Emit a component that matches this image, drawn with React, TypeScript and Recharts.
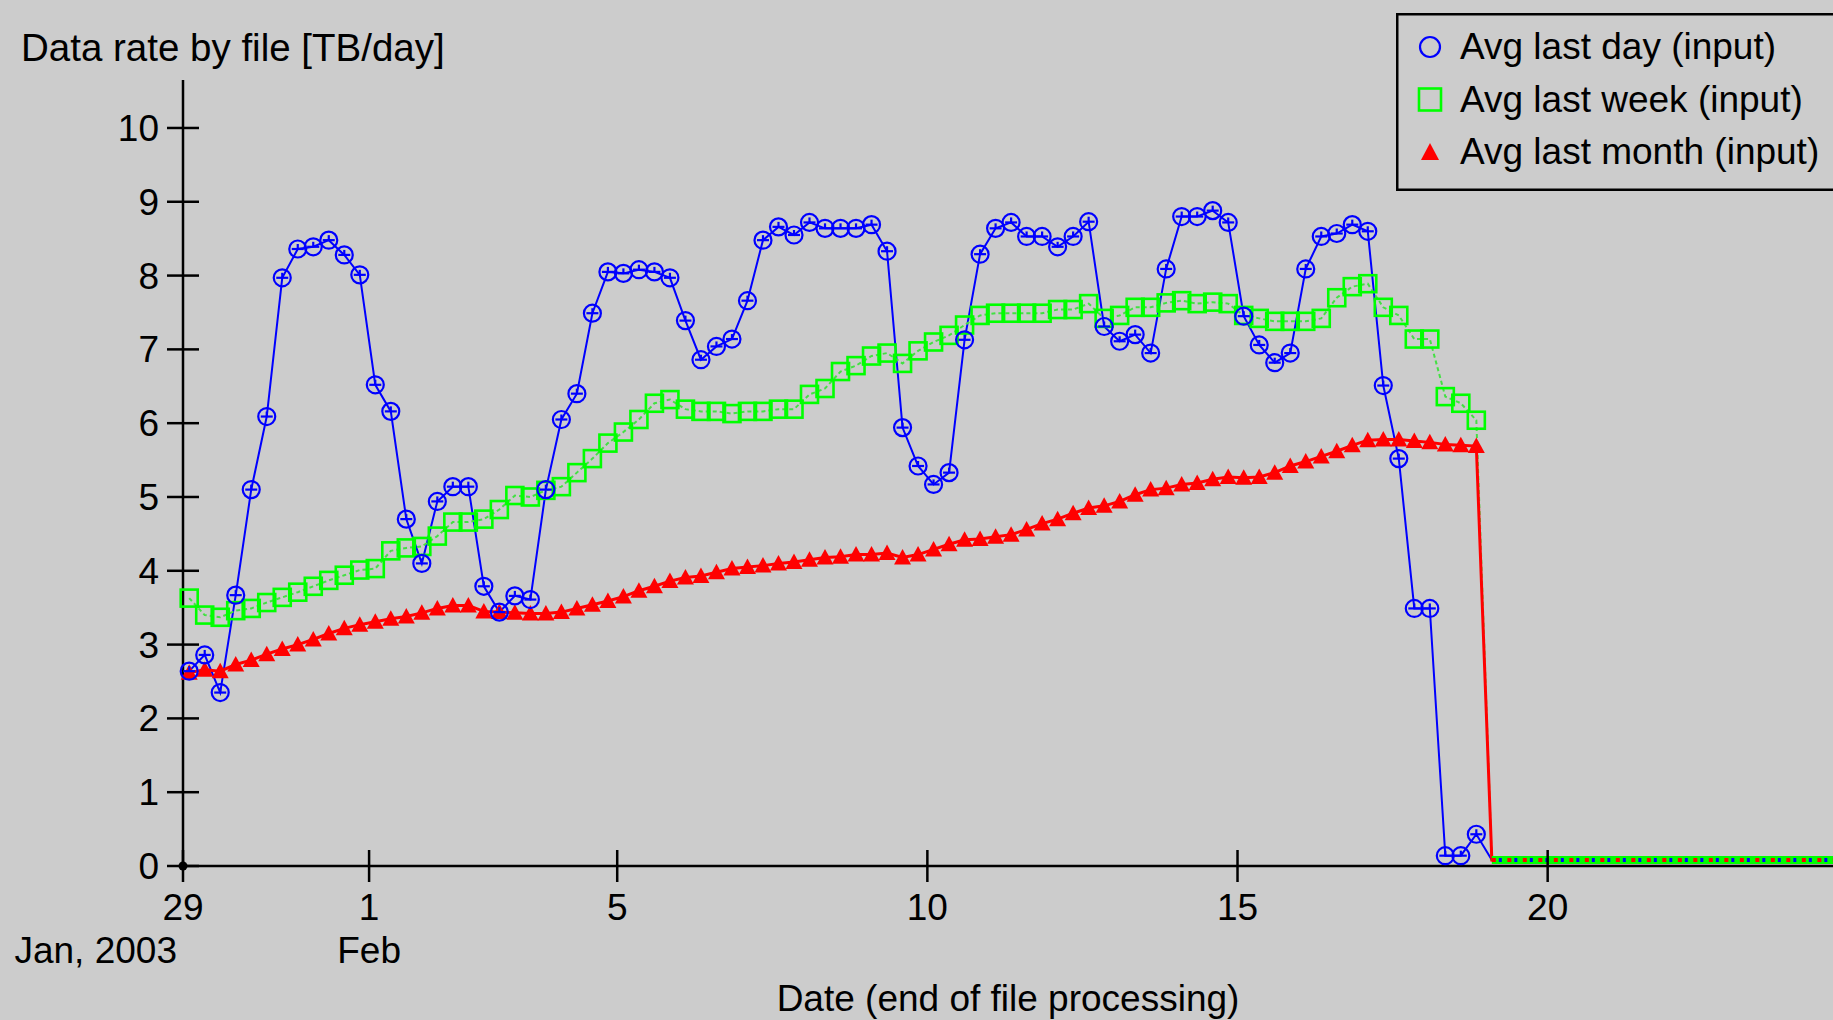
import React from 'react';
import { LineChart, Line, XAxis, YAxis, Legend } from 'recharts';

const FONT = '"Liberation Sans", Arial, sans-serif';

// sampling grid: days after 29 Jan 2003 00:00, one sample every 6 hours
const FIRST_SAMPLE_DAY = 0.1;
const SAMPLE_STEP_DAY = 0.25;

const lastDay = [
  2.64, 2.86, 2.35, 3.67, 5.10, 6.09, 7.97, 8.36, 8.39, 8.48,
  8.28, 8.01, 6.52, 6.16, 4.70, 4.10, 4.94, 5.14, 5.14, 3.79,
  3.44, 3.66, 3.61, 5.10, 6.05, 6.40, 7.49, 8.05, 8.03, 8.08,
  8.05, 7.97, 7.39, 6.86, 7.04, 7.14, 7.66, 8.48, 8.66, 8.55,
  8.72, 8.64, 8.64, 8.64, 8.69, 8.33, 5.94, 5.42, 5.17, 5.33,
  7.13, 8.29, 8.64, 8.72, 8.53, 8.53, 8.39, 8.53, 8.73, 7.31,
  7.11, 7.20, 6.95, 8.09, 8.80, 8.80, 8.88, 8.72, 7.45, 7.06,
  6.82, 6.95, 8.09, 8.53, 8.57, 8.69, 8.60, 6.51, 5.52, 3.49,
  3.49, 0.14, 0.14, 0.43,
];

const lastWeek = [
  3.63, 3.40, 3.37, 3.46, 3.49, 3.57, 3.64, 3.71, 3.79, 3.87,
  3.94, 4.01, 4.03, 4.27, 4.31, 4.33, 4.47, 4.66, 4.66, 4.70,
  4.83, 5.02, 5.00, 5.09, 5.14, 5.33, 5.52, 5.73, 5.88, 6.05,
  6.27, 6.32, 6.19, 6.16, 6.16, 6.13, 6.16, 6.16, 6.19, 6.19,
  6.39, 6.47, 6.70, 6.78, 6.91, 6.95, 6.81, 6.98, 7.10, 7.19,
  7.33, 7.46, 7.49, 7.49, 7.49, 7.49, 7.54, 7.54, 7.62, 7.42,
  7.46, 7.57, 7.57, 7.63, 7.66, 7.62, 7.64, 7.62, 7.46, 7.42,
  7.38, 7.38, 7.38, 7.42, 7.70, 7.85, 7.89, 7.57, 7.46, 7.14,
  7.14, 6.36, 6.27, 6.04,
];

const lastMonth = [
  2.62, 2.66, 2.64, 2.73, 2.79, 2.87, 2.94, 3.00, 3.07, 3.15,
  3.22, 3.27, 3.31, 3.35, 3.38, 3.43, 3.49, 3.53, 3.53, 3.45,
  3.44, 3.43, 3.42, 3.42, 3.44, 3.49, 3.54, 3.59, 3.65, 3.73,
  3.79, 3.86, 3.91, 3.93, 3.98, 4.03, 4.05, 4.07, 4.10, 4.12,
  4.15, 4.18, 4.19, 4.22, 4.22, 4.24, 4.18, 4.22, 4.29, 4.36,
  4.42, 4.43, 4.46, 4.49, 4.56, 4.64, 4.70, 4.78, 4.85, 4.88,
  4.94, 5.03, 5.10, 5.12, 5.17, 5.19, 5.24, 5.27, 5.26, 5.27,
  5.33, 5.42, 5.48, 5.55, 5.62, 5.70, 5.77, 5.78, 5.78, 5.76,
  5.74, 5.71, 5.70, 5.69,
];

// after processing stopped: all three averages sit at ~0
const dayTail = [
  0.08, 0.08, 0.08, 0.08, 0.08, 0.08, 0.08, 0.08, 0.08, 0.08, 0.08, 0.08,
  0.08, 0.08, 0.08, 0.08, 0.08, 0.08, 0.08, 0.08, 0.08, 0.08, 0.08,
];
const weekTail = [
  0.08, 0.08, 0.08, 0.08, 0.08, 0.08, 0.08, 0.08, 0.08, 0.08, 0.08, 0.08,
  0.08, 0.08, 0.08, 0.08, 0.08, 0.08, 0.08, 0.08, 0.08, 0.08, 0.08,
];
const monthTail = [
  0.08, 0.08, 0.08, 0.08, 0.08, 0.08, 0.08, 0.08, 0.08, 0.08, 0.08, 0.08,
  0.08, 0.08, 0.08, 0.08, 0.08, 0.08, 0.08, 0.08, 0.08, 0.08, 0.08,
];

const seriesKeys = ['day', 'week', 'month'];
const seriesNames = ['Avg last day (input)', 'Avg last week (input)', 'Avg last month (input)'];
const seriesColors = ['#0000ff', '#00ff00', '#ff0000'];

const xTicks = [0, 3, 7, 12, 17, 22];
const xTickLabels = ['29', '1', '5', '10', '15', '20'];
const xTickSubLabels = ['Jan, 2003', 'Feb', '', '', '', ''];
const yTicks = [0, 1, 2, 3, 4, 5, 6, 7, 8, 9, 10];

const X_DOMAIN: [number, number] = [0, 26.6];
const Y_DOMAIN: [number, number] = [0, 10.65];

const MAIN_COUNT = lastDay.length;
const data: any[] = [];
for (let i = 0; i < MAIN_COUNT + dayTail.length; i++) {
  const t = FIRST_SAMPLE_DAY + i * SAMPLE_STEP_DAY;
  const main = i < MAIN_COUNT;
  const j = i - MAIN_COUNT;
  data.push({
    t,
    day: main ? lastDay[i] : dayTail[j],
    week: main ? lastWeek[i] : weekTail[j],
    month: main ? lastMonth[i] : monthTail[j],
    dayTail: main ? null : dayTail[j],
    weekTail: main ? null : weekTail[j],
    monthTail: main ? null : monthTail[j],
  });
}

const BLUE = seriesColors[0];
const GREEN = seriesColors[1];
const RED = seriesColors[2];

const CircleMark = (props: any) => {
  const { cx, cy, index } = props;
  if (cx == null || cy == null || index >= MAIN_COUNT) return <g key={`c${index}`} />;
  return (
    <g key={`c${index}`}>
      <circle cx={cx} cy={cy} r={8.5} fill="none" stroke={BLUE} strokeWidth={2.2} />
      <line x1={cx - 6} x2={cx + 6} y1={cy} y2={cy} stroke={BLUE} strokeWidth={2.2} />
      <line x1={cx} x2={cx} y1={cy - 5} y2={cy} stroke={BLUE} strokeWidth={2.2} />
    </g>
  );
};

const SquareMark = (props: any) => {
  const { cx, cy, index } = props;
  if (cx == null || cy == null || index >= MAIN_COUNT) return <g key={`s${index}`} />;
  return (
    <rect key={`s${index}`} x={cx - 8.5} y={cy - 8.5} width={17} height={17}
      fill="none" stroke={GREEN} strokeWidth={2.6} />
  );
};

const TriangleMark = (props: any) => {
  const { cx, cy, index } = props;
  if (cx == null || cy == null || index >= MAIN_COUNT) return <g key={`t${index}`} />;
  return (
    <polygon key={`t${index}`}
      points={`${cx},${cy - 8.5} ${cx - 8.5},${cy + 7} ${cx + 8.5},${cy + 7}`}
      fill={RED} stroke="none" />
  );
};

const YTick = (props: any) => {
  const { x, y, payload } = props;
  return (
    <g>
      <line x1={x - 16} x2={x + 16} y1={y} y2={y} stroke="#000" strokeWidth={2.5} />
      <text x={x - 24} y={y + 13} textAnchor="end" fontSize={37} fontFamily={FONT} fill="#000">
        {payload.value}
      </text>
    </g>
  );
};

const XTick = (props: any) => {
  const { x, y, payload } = props;
  const i = xTicks.indexOf(payload.value);
  return (
    <g>
      <line x1={x} x2={x} y1={y - 16} y2={y + 16} stroke="#000" strokeWidth={2.5} />
      {i === 0 && <circle cx={x} cy={y} r={4.5} fill="#000" />}
      <text x={x} y={y + 54} textAnchor="middle" fontSize={37} fontFamily={FONT} fill="#000">
        {xTickLabels[i]}
      </text>
      {xTickSubLabels[i] ? (
        <text x={i === 0 ? x - 6 : x} y={y + 97} textAnchor={i === 0 ? 'end' : 'middle'}
          fontSize={37} fontFamily={FONT} fill="#000">
          {xTickSubLabels[i]}
        </text>
      ) : null}
    </g>
  );
};

const renderYTitle = () => (
  <text x={21} y={61} fontSize={38.5} fontFamily={FONT} fill="#000">
    Data rate by file [TB/day]
  </text>
);

const renderXTitle = (props: any) => {
  const vb = props.viewBox || {};
  const cx = (vb.x || 0) + (vb.width || 0) / 2;
  return (
    <text x={cx} y={1011} textAnchor="middle" fontSize={37} fontFamily={FONT} fill="#000">
      Date (end of file processing)
    </text>
  );
};

const LegendMarker = ({ k, cx, cy }: { k: string; cx: number; cy: number }) => {
  if (k === 'day') return <circle cx={cx} cy={cy} r={10} fill="none" stroke={BLUE} strokeWidth={2.2} />;
  if (k === 'week')
    return <rect x={cx - 11} y={cy - 11} width={22} height={22} fill="none" stroke={GREEN} strokeWidth={2.6} />;
  return <polygon points={`${cx},${cy - 9} ${cx - 9},${cy + 8} ${cx + 9},${cy + 8}`} fill={RED} />;
};

const LegendBox = () => (
  <svg width={437} height={180} style={{ display: 'block' }}>
    <rect x={1.25} y={1.25} width={470} height={175.5} fill="none" stroke="#000" strokeWidth={2.5} />
    {seriesKeys.map((k, i) => (
      <g key={k}>
        <LegendMarker k={k} cx={34} cy={34 + i * 52.5} />
        <text x={64} y={46 + i * 52.5} fontSize={37} fontFamily={FONT} fill="#000">
          {seriesNames[i]}
        </text>
      </g>
    ))}
  </svg>
);

export default function App() {
  return (
    <div style={{ position: 'absolute', left: 0, top: 0, width: 1833, height: 1020, overflow: 'hidden', background: '#cccccc' }}>
      <LineChart width={1833} height={1020} data={data}
        margin={{ top: 80, right: 0, left: 83, bottom: 54 }}
        style={{ background: '#cccccc' }}>
        <XAxis dataKey="t" type="number" domain={X_DOMAIN} ticks={xTicks} interval={0}
          height={100} tickSize={0} tickMargin={0} tickLine={false}
          axisLine={{ stroke: '#000', strokeWidth: 2.5 }} tick={<XTick />}
          label={renderXTitle} />
        <YAxis type="number" domain={Y_DOMAIN} ticks={yTicks} interval={0} width={100}
          tickSize={0} tickMargin={0} tickLine={false}
          axisLine={{ stroke: '#000', strokeWidth: 2.5 }} tick={<YTick />}
          label={renderYTitle} />
        <Legend layout="horizontal" verticalAlign="middle" align="center"
          wrapperStyle={{ position: 'absolute', left: 1396, top: 13, width: 437, height: 180 }}
          content={<LegendBox />} />

        {/* connecting lines (drawn first, under all shapes) */}
        <Line dataKey="day" name={seriesNames[0]} stroke={BLUE} strokeWidth={2} dot={false}
          activeDot={false} isAnimationActive={false} />
        <Line dataKey="week" name={seriesNames[1]} stroke="#44e044" strokeWidth={2} strokeDasharray="4 3"
          dot={false} activeDot={false} isAnimationActive={false} />
        <Line dataKey="month" name={seriesNames[2]} stroke={RED} strokeWidth={3} dot={false}
          activeDot={false} isAnimationActive={false} />

        {/* flat tail after the end of processing */}
        <Line dataKey="weekTail" stroke={GREEN} strokeWidth={8} dot={false} activeDot={false}
          legendType="none" isAnimationActive={false} />
        <Line dataKey="monthTail" stroke={RED} strokeWidth={4} strokeDasharray="4 11.5" dot={false}
          activeDot={false} legendType="none" isAnimationActive={false} />
        <Line dataKey="dayTail" stroke={BLUE} strokeWidth={4} strokeDasharray="3 12.5" strokeDashoffset={-7}
          dot={false} activeDot={false} legendType="none" isAnimationActive={false} />

        {/* shapes */}
        <Line dataKey="month" stroke="none" dot={TriangleMark} activeDot={false} legendType="none"
          isAnimationActive={false} />
        <Line dataKey="week" stroke="none" dot={SquareMark} activeDot={false} legendType="none"
          isAnimationActive={false} />
        <Line dataKey="day" stroke="none" dot={CircleMark} activeDot={false} legendType="none"
          isAnimationActive={false} />
      </LineChart>
    </div>
  );
}
